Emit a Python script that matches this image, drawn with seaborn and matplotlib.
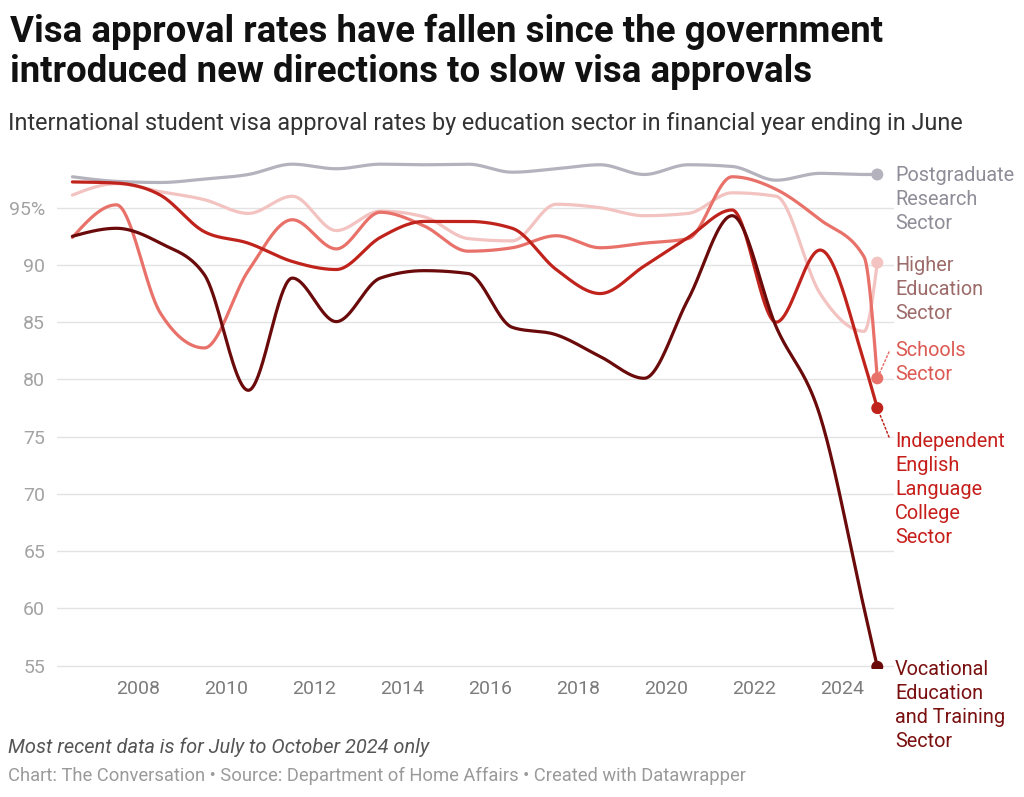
import numpy as np
import pandas as pd
import matplotlib
matplotlib.use("Agg")
import matplotlib.pyplot as plt
import seaborn as sns

# ---------------- data ----------------
# x position of each observation in decimal years (financial year ending June;
# the last observation covers July to October 2024)
period = [2006.5, 2007.5, 2008.5, 2009.5, 2010.5, 2011.5, 2012.5, 2013.5,
          2014.5, 2015.5, 2016.5, 2017.5, 2018.5, 2019.5, 2020.5, 2021.5,
          2022.5, 2023.5, 2024.5, 2024.8]

postgraduate = [97.7, 97.3, 97.2, 97.5, 97.9, 98.8, 98.4, 98.8, 98.75, 98.8,
                98.1, 98.4, 98.75, 97.9, 98.75, 98.6, 97.4, 98.0, 97.9, 97.9]
higher_ed = [96.1, 97.1, 96.4, 95.7, 94.5, 96.0, 93.0, 94.7, 94.2, 92.3,
             92.1, 95.3, 95.0, 94.3, 94.5, 96.3, 96.0, 87.5, 84.2, 90.2]
schools = [92.4, 95.25, 85.8, 82.75, 89.5, 93.95, 91.4, 94.6, 93.4, 91.2,
           91.5, 92.55, 91.5, 91.9, 92.3, 97.7, 96.6, 93.95, 90.7, 80.1]
elicos = [97.25, 97.15, 96.1, 92.9, 91.9, 90.3, 89.6, 92.4, 93.8, 93.8,
          93.2, 89.6, 87.5, 89.9, 92.4, 94.8, 85.0, 91.3, 81.5, 77.5]
vet = [92.5, 93.2, 91.9, 89.15, 79.05, 88.85, 85.05, 88.85, 89.5, 89.25,
       84.55, 83.9, 82.0, 80.1, 87.0, 94.3, 84.6, 76.8, 60.0, 54.9]

series_names = ["Postgraduate\nResearch\nSector",
                "Higher\nEducation\nSector",
                "Schools\nSector",
                "Independent\nEnglish\nLanguage\nCollege\nSector",
                "Vocational\nEducation\nand Training\nSector"]
series_values = [postgraduate, higher_ed, schools, elicos, vet]

x_ticks = [2008, 2010, 2012, 2014, 2016, 2018, 2020, 2022, 2024]
y_ticks = [55, 60, 65, 70, 75, 80, 85, 90, 95]
y_tick_labels = ["55", "60", "65", "70", "75", "80", "85", "90", "95%"]

title = ("Visa approval rates have fallen since the government\n"
         "introduced new directions to slow visa approvals")
subtitle = ("International student visa approval rates by education sector "
            "in financial year ending in June")
note = "Most recent data is for July to October 2024 only"
credit = ("Chart: The Conversation \u2022 Source: Department of Home Affairs "
          "\u2022 Created with Datawrapper")

# ---------------- styles ----------------
line_colors = ["#b4b2bd", "#f2c3c0", "#e8716a", "#c0231b", "#6a0a0a"]
label_colors = ["#8e8d98", "#9d6b6a", "#dc5a54", "#c61f1b", "#7a1010"]
# label anchor (figure pixels from top-left): top of each label block
label_tops = [166, 256, 341, 432, 660]
# connectors (dotted) only for labels that were shifted away from their dot
connector_ends = [None, None, (889, 352), (889, 437), None]

W, H = 1024, 797
sns.set_theme(style="white")
plt.rcParams["font.family"] = ["Roboto", "DejaVu Sans"]

fig = plt.figure(figsize=(W / 100, H / 100), dpi=100)
ax_left, ax_right, ax_top, ax_bottom = 57, 894, 159.6, 669.1
ax = fig.add_axes([ax_left / W, 1 - ax_bottom / H,
                   (ax_right - ax_left) / W, (ax_bottom - ax_top) / H])


def monotone_curve(x, y, n=40):
    """Render a monotone cubic (d3.curveMonotoneX style) path through the points."""
    x = np.asarray(x, float)
    y = np.asarray(y, float)
    h = np.diff(x)
    s = np.diff(y) / h
    m = np.zeros_like(y)
    sgn = lambda v: -1.0 if v < 0 else 1.0
    for i in range(1, len(x) - 1):
        s0, s1 = s[i - 1], s[i]
        p = (s0 * h[i] + s1 * h[i - 1]) / (h[i - 1] + h[i])
        m[i] = (sgn(s0) + sgn(s1)) * min(abs(s0), abs(s1), 0.5 * abs(p))
    m[0] = (3 * s[0] - m[1]) / 2
    m[-1] = (3 * s[-1] - m[-2]) / 2
    xs, ys = [], []
    for i in range(len(h)):
        t = np.linspace(0, 1, n, endpoint=(i == len(h) - 1))
        h00 = 2 * t**3 - 3 * t**2 + 1
        h10 = t**3 - 2 * t**2 + t
        h01 = -2 * t**3 + 3 * t**2
        h11 = t**3 - t**2
        xs.append(x[i] + t * h[i])
        ys.append(h00 * y[i] + h10 * h[i] * m[i] + h01 * y[i + 1] + h11 * h[i] * m[i + 1])
    return np.concatenate(xs), np.concatenate(ys)


for name, vals, col in zip(series_names, series_values, line_colors):
    cx, cy = monotone_curve(period, vals)
    df = pd.DataFrame({"x": cx, "y": cy})
    sns.lineplot(data=df, x="x", y="y", ax=ax, color=col, lw=2.3,
                 sort=False, estimator=None, solid_capstyle="round")
    last = pd.DataFrame({"x": [period[-1]], "y": [vals[-1]]})
    sns.scatterplot(data=last, x="x", y="y", ax=ax, color=col, s=75,
                    edgecolor="none", zorder=5)

ax.set_xlim(2006.15, 2025.18)
ax.set_ylim(54.7, 99.2)
ax.set_xticks(x_ticks)
ax.set_xticklabels([str(t) for t in x_ticks])
ax.set_yticks(y_ticks)
ax.set_yticklabels(y_tick_labels)
ax.set_xlabel("")
ax.set_ylabel("")
ax.yaxis.grid(True, color="#e3e3e3", lw=1.0)
ax.xaxis.grid(False)
ax.set_axisbelow(True)
for sp in ax.spines.values():
    sp.set_visible(False)
ax.tick_params(axis="y", length=0, pad=8.5, labelsize=14, labelcolor="#a3a3a3")
ax.tick_params(axis="x", length=0, pad=8, labelsize=14, labelcolor="#7c7c7c")

# right-hand series labels
for name, vals, lcol, lncol, top, conn in zip(series_names, series_values, label_colors,
                                              line_colors, label_tops, connector_ends):
    fig.text(895 / W, 1 - top / H, name, color=lcol, fontsize=14.3,
             ha="left", va="top", linespacing=1.335)
    if conn is not None:
        ax.annotate("", xy=(period[-1], vals[-1]), xycoords="data",
                    xytext=(conn[0], H - conn[1]), textcoords="figure pixels",
                    arrowprops=dict(arrowstyle="-", linestyle=(0, (1.2, 1.6)),
                                    color=lncol, lw=1.1, shrinkA=0, shrinkB=4))

# titles
fig.text(10 / W, 1 - 42 / H, title.split("\n")[0], fontsize=26.4, fontweight="bold",
         color="#111111", ha="left", va="baseline")
fig.text(10 / W, 1 - 82 / H, title.split("\n")[1], fontsize=26.4, fontweight="bold",
         color="#111111", ha="left", va="baseline")
fig.text(8 / W, 1 - 130 / H, subtitle, fontsize=16.8, color="#333333",
         ha="left", va="baseline")
fig.text(8 / W, 1 - 753 / H, note, fontsize=14.4, style="italic", color="#555555",
         ha="left", va="baseline")
fig.text(8 / W, 1 - 781 / H, credit, fontsize=13.2, color="#9a9a9a",
         ha="left", va="baseline")

fig.savefig("out.png", dpi=100, facecolor="white")
